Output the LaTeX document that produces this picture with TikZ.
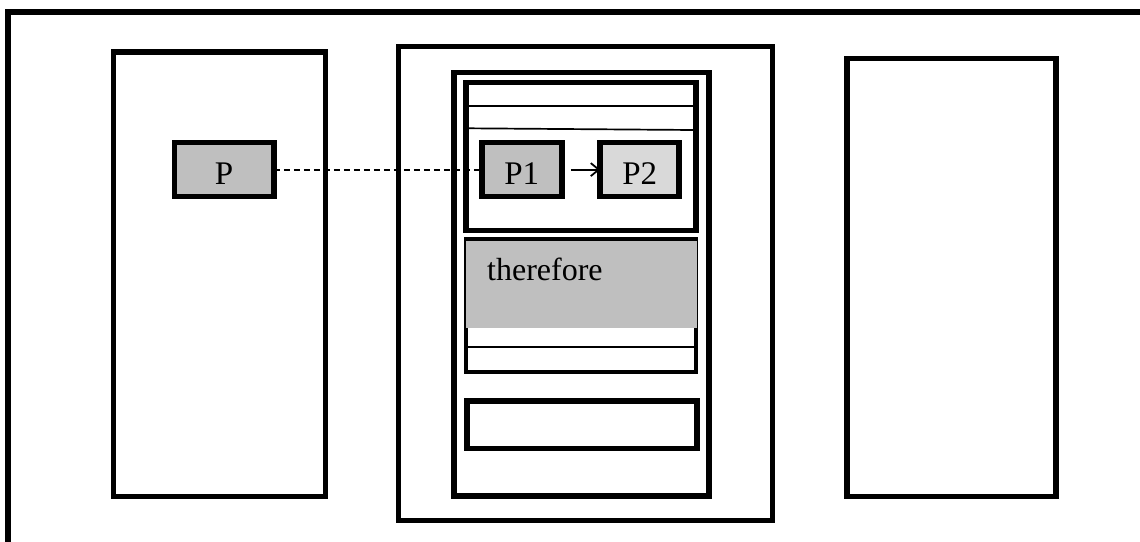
\documentclass[tikz,border=0pt]{standalone}
\usepackage{fontspec}
\setmainfont{Liberation Serif}
\usetikzlibrary{arrows.meta}
\definecolor{gdark}{HTML}{BFBFBF}
\definecolor{glight}{HTML}{D9D9D9}
\begin{document}
\begin{tikzpicture}[x=1pt,y=-1pt,
  frame/.style={draw=black,line width=5.5pt},
  hair/.style={draw=black,line width=1.7pt},
  pbox/.style={draw=black,line width=5.5pt,inner sep=0pt,outer sep=0pt,
    minimum height=54pt,text height=29pt,text depth=0pt,
    font=\fontsize{33}{38}\selectfont},
  lbl/.style={inner sep=0pt,font=\fontsize{32}{38}\selectfont},
  link/.style={draw=black,line width=2pt,dash pattern=on 6pt off 4pt},
  flow/.style={draw=black,line width=1.8pt,-{Straight Barb[length=8pt,width=13pt,line width=1.8pt]}}]
\clip (0,0) rectangle (1140,541);
\fill[white] (0,0) rectangle (1140,541);
% outer frame (cropped at right and bottom)
\draw[frame] (7.8,12.2) rectangle (1170,570);
% left and right columns
\draw[frame] (113.5,52) rectangle (325.5,496.5);
\draw[frame] (847,58.7) rectangle (1056,496.5);
% middle column
\draw[frame] (398.5,46.5) rectangle (772.7,520.5);
\draw[frame] (454,72.5) rectangle (709,496);
% upper inner box
\draw[frame] (466,82.5) rectangle (696,230.5);
\draw[hair] (468,105.7) -- (694,105.7);
\draw[hair] (468,128.3) -- (694,130);
% lower inner box
\draw[frame,line width=4.5pt] (466,239) rectangle (696,372);
\draw[hair] (468,347) -- (694,347);
\fill[gdark] (465.7,240.7) rectangle (697.3,328.3);
\node[lbl,anchor=base west] (tf) at (487,280) {therefore};
% bottom small box
\draw[frame] (466.8,400.8) rectangle (696.8,448.5);
% process nodes
\node[pbox,fill=gdark,minimum width=99.5pt] (P) at (224,169.6) {P};
\node[pbox,fill=gdark,minimum width=80pt] (P1) at (521.8,169.6) {P1};
\node[pbox,fill=glight,minimum width=79pt] (P2) at (639.7,169.6) {P2};
\draw[link] (P.east) -- (P1.west);
\draw[flow,shorten <=9pt] (P1.east) -- (P2.west);
\end{tikzpicture}
\end{document}
